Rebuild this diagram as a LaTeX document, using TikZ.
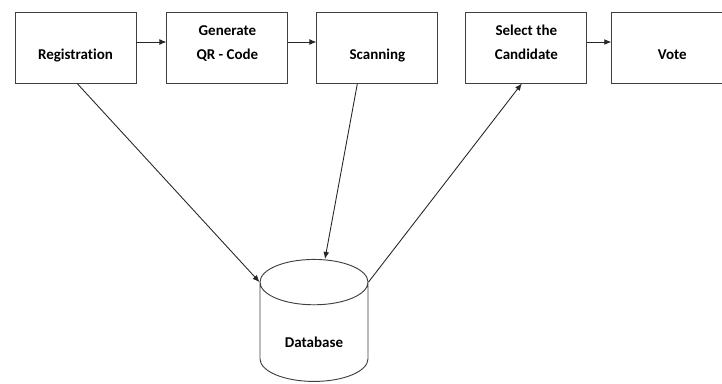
\documentclass[tikz,border=0pt]{standalone}
\usepackage{fontspec}
\setmainfont{Carlito}[Ligatures=NoCommon]
\usetikzlibrary{shapes,arrows.meta,positioning,calc}

\begin{document}
\begin{tikzpicture}[x=0.03cm, y=-0.03cm, >={Latex[length=6pt,width=5pt]},
    font=\fontsize{12.8}{20.4}\selectfont\bfseries]
    \tikzset{box/.style={draw=black!75, line width=0.8pt, minimum width=3.63cm, minimum height=2.13cm,
                 inner sep=0pt, align=center, text height=0.69cm, text depth=0pt},
             link/.style={->, line width=0.75pt, draw=black!85}}
    \useasboundingbox (0,0) rectangle (722,383);

    \node (reg) [box] at (75.5,47.5) {Registration};
    \node (qr) [box, right=0.9cm of reg] {Generate\\QR - Code};
    \node (scan) [box, right=0.84cm of qr] {Scanning};
    \node (select) [box, right=0.81cm of scan] {Select the\\Candidate};
    \node (vote) [box, right=0.72cm of select] {Vote};

    \node (db) [draw=black!75, line width=0.8pt, cylinder, shape border rotate=90, aspect=0.78,
        minimum width=3.24cm, minimum height=3.66cm, inner sep=0pt,
        text height=0.9cm, text depth=0pt] at (314,332) {Database};

    \draw [link] ([yshift=0.165cm]reg.east) -- ([yshift=0.165cm]qr.west);
    \draw [link] ([yshift=0.165cm]qr.east) -- ([yshift=0.165cm]scan.west);
    \draw [link] ([yshift=0.165cm]select.east) -- ([yshift=0.165cm]vote.west);

    \draw [link] ([xshift=0.05cm]reg.south) -- (db.before top);
    \draw [link] ([xshift=-0.6cm]scan.south) -- ([xshift=0.33cm]db.top);
    \draw [link] (db.after top) -- ([xshift=-0.135cm]select.south);
\end{tikzpicture}
\end{document}
